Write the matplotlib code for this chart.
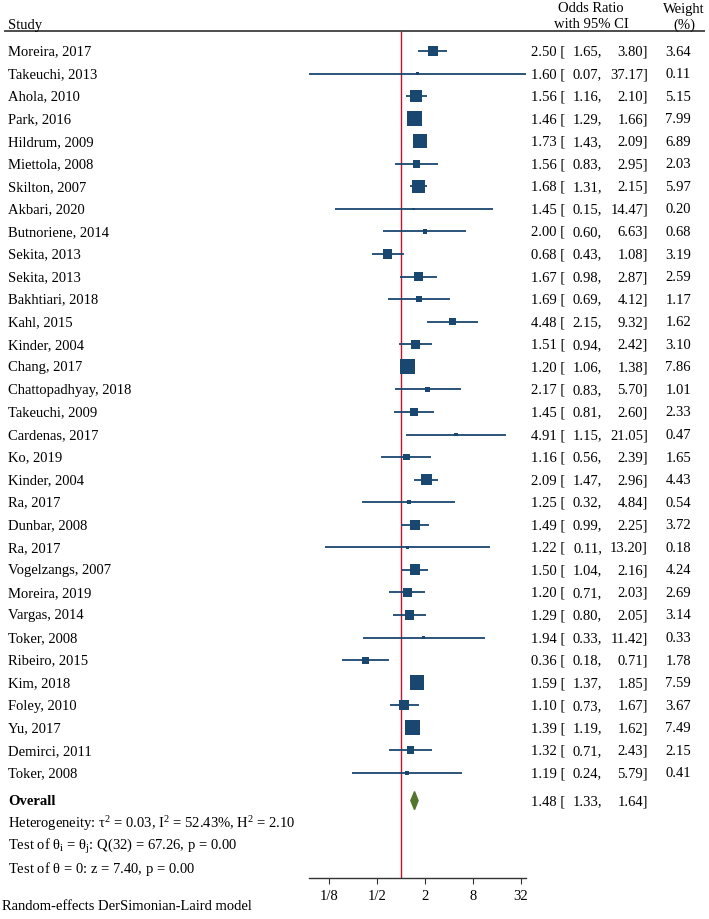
import matplotlib
matplotlib.use("Agg")
import matplotlib.pyplot as plt
import matplotlib.transforms as mtransforms
import numpy as np

plt.rcParams['font.family'] = ['Liberation Serif', 'DejaVu Serif']
plt.rcParams['mathtext.fontset'] = 'custom'
plt.rcParams['mathtext.rm'] = 'Liberation Serif'
plt.rcParams['mathtext.it'] = 'Liberation Serif:italic'
plt.rcParams['mathtext.bf'] = 'Liberation Serif:bold'

studies = ["Moreira, 2017", "Takeuchi, 2013", "Ahola, 2010", "Park, 2016", "Hildrum, 2009",
           "Miettola, 2008", "Skilton, 2007", "Akbari, 2020", "Butnoriene, 2014", "Sekita, 2013",
           "Sekita, 2013", "Bakhtiari, 2018", "Kahl, 2015", "Kinder, 2004", "Chang, 2017",
           "Chattopadhyay, 2018", "Takeuchi, 2009", "Cardenas, 2017", "Ko, 2019", "Kinder, 2004",
           "Ra, 2017", "Dunbar, 2008", "Ra, 2017", "Vogelzangs, 2007", "Moreira, 2019",
           "Vargas, 2014", "Toker, 2008", "Ribeiro, 2015", "Kim, 2018", "Foley, 2010",
           "Yu, 2017", "Demirci, 2011", "Toker, 2008"]
odds = [2.50, 1.60, 1.56, 1.46, 1.73, 1.56, 1.68, 1.45, 2.00, 0.68, 1.67, 1.69, 4.48, 1.51,
        1.20, 2.17, 1.45, 4.91, 1.16, 2.09, 1.25, 1.49, 1.22, 1.50, 1.20, 1.29, 1.94, 0.36,
        1.59, 1.10, 1.39, 1.32, 1.19]
lower = [1.65, 0.07, 1.16, 1.29, 1.43, 0.83, 1.31, 0.15, 0.60, 0.43, 0.98, 0.69, 2.15, 0.94,
         1.06, 0.83, 0.81, 1.15, 0.56, 1.47, 0.32, 0.99, 0.11, 1.04, 0.71, 0.80, 0.33, 0.18,
         1.37, 0.73, 1.19, 0.71, 0.24]
upper = [3.80, 37.17, 2.10, 1.66, 2.09, 2.95, 2.15, 14.47, 6.63, 1.08, 2.87, 4.12, 9.32, 2.42,
         1.38, 5.70, 2.60, 21.05, 2.39, 2.96, 4.84, 2.25, 13.20, 2.16, 2.03, 2.05, 11.42, 0.71,
         1.85, 1.67, 1.62, 2.43, 5.79]
weights = [3.64, 0.11, 5.15, 7.99, 6.89, 2.03, 5.97, 0.20, 0.68, 3.19, 2.59, 1.17, 1.62, 3.10,
           7.86, 1.01, 2.33, 0.47, 1.65, 4.43, 0.54, 3.72, 0.18, 4.24, 2.69, 3.14, 0.33, 1.78,
           7.59, 3.67, 7.49, 2.15, 0.41]
overall = [1.48, 1.33, 1.64]
tick_vals = [0.125, 0.5, 2, 8, 32]
tick_labels = ["1/8", "1/2", "2", "8", "32"]

navy = "#1a476f"
W, H = 709, 920
fs = 10.5

fig = plt.figure(figsize=(W / 100, H / 100), dpi=100)
ax = fig.add_axes([309 / W, 1 - 879 / H, 217 / W, 847 / H])

rows = np.arange(1, len(studies) + 1)
ov_y = 34.23

# CIs and weight squares
ax.hlines(rows, lower, upper, color=navy, lw=1.3, clip_on=False, zorder=2)
sizes = np.maximum(14.6 * np.array(weights), 4)
ax.scatter(odds, rows, s=sizes, marker="s", color=navy, edgecolors="none", zorder=3, clip_on=False)

# overall diamond
ax.fill([overall[1], overall[0], overall[2], overall[0]],
        [ov_y, ov_y - 0.4, ov_y, ov_y + 0.4], color="#55752f", zorder=3, clip_on=False)

ax.axvline(1, color="#c8102e", lw=1.0, zorder=1)

ax.set_xscale("log", base=2)
ax.set_xlim(min(lower), max(upper))
ax.set_ylim(37.66, 0.113)
ax.set_xticks(tick_vals)
ax.set_xticklabels(tick_labels)
ax.minorticks_off()
ax.tick_params(axis="x", length=4, width=0.8, color="#333333", labelsize=fs, pad=4)
ax.set_yticks([])
for side in ["top", "left", "right"]:
    ax.spines[side].set_visible(False)
ax.spines["bottom"].set_color("#333333")
ax.spines["bottom"].set_linewidth(1.0)
ax.patch.set_alpha(0)

trans = mtransforms.blended_transform_factory(fig.transFigure, ax.transData)

def or_text(y, est, lo, hi, weight=None):
    ax.text(531 / W, y, f"{est:.2f} [", transform=trans, ha="left", va="center", fontsize=fs)
    ax.text(602 / W, y, f"{lo:.2f},", transform=trans, ha="right", va="center", fontsize=fs)
    ax.text(648 / W, y, f"{hi:.2f}]", transform=trans, ha="right", va="center", fontsize=fs)
    if weight is not None:
        ax.text(691 / W, y, f"{weight:.2f}", transform=trans, ha="right", va="center", fontsize=fs)

for y, name, est, lo, hi, w in zip(rows, studies, odds, lower, upper, weights):
    ax.text(8 / W, y, name, transform=trans, ha="left", va="center", fontsize=fs)
    or_text(y, est, lo, hi, w)

ax.text(8 / W, ov_y, "Overall", transform=trans, ha="left", va="center", fontsize=fs, fontweight="bold")
or_text(ov_y, *overall)

# header
fig.text(8 / W, 1 - 25 / H, "Study", ha="left", va="center", fontsize=fs)
fig.text(591 / W, 1 - 9 / H, "Odds Ratio", ha="center", va="center", fontsize=fs)
fig.text(591 / W, 1 - 25 / H, "with 95% CI", ha="center", va="center", fontsize=fs)
fig.text(684 / W, 1 - 9 / H, "Weight", ha="center", va="center", fontsize=fs)
fig.text(684 / W, 1 - 25 / H, "(%)", ha="center", va="center", fontsize=fs)
fig.add_artist(plt.Line2D([5 / W, 704 / W], [1 - 32 / H, 1 - 32 / H], color="#4d4d4d", lw=1.4))

# heterogeneity notes
fig.text(8 / W, 1 - 824 / H, r"Heterogeneity: $\mathrm{\tau}^2$ = 0.03, I$^2$ = 52.43%, H$^2$ = 2.10",
         ha="left", va="center", fontsize=fs)
fig.text(8 / W, 1 - 847 / H, r"Test of $\mathrm{\theta_i}$ = $\mathrm{\theta_j}$: Q(32) = 67.26, p = 0.00",
         ha="left", va="center", fontsize=fs)
fig.text(8 / W, 1 - 869 / H, r"Test of $\mathrm{\theta}$ = 0: z = 7.40, p = 0.00",
         ha="left", va="center", fontsize=fs)
fig.text(2 / W, 1 - 907 / H, "Random-effects DerSimonian-Laird model", ha="left", va="center", fontsize=fs)

fig.savefig("out.png", dpi=100)
